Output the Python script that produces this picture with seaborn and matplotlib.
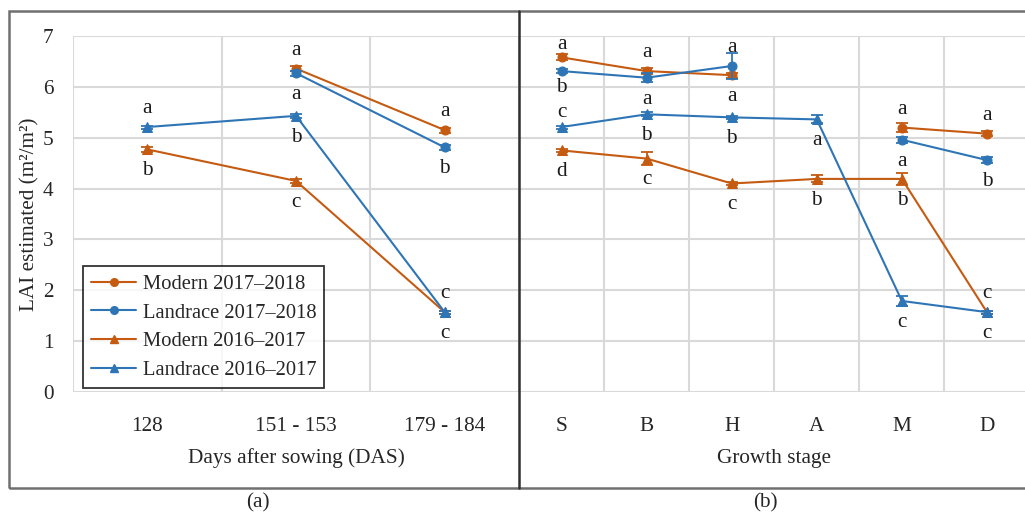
import numpy as np
import pandas as pd
import matplotlib
matplotlib.use("Agg")
import matplotlib.pyplot as plt
from matplotlib.lines import Line2D
from matplotlib.patches import Rectangle
import seaborn as sns

# ---------------- data ----------------
das_labels = ["128", "151 - 153", "179 - 184"]
stage_labels = ["S", "B", "H", "A", "M", "D"]
series_names = ["Modern 2017\u20132018", "Landrace 2017\u20132018",
                "Modern 2016\u20132017", "Landrace 2016\u20132017"]

# panel (a): LAI by days after sowing
a_mod_1718 = [np.nan, 6.36, 5.15]
a_lan_1718 = [np.nan, 6.27, 4.81]
a_mod_1617 = [4.77, 4.15, 1.57]
a_lan_1617 = [5.21, 5.43, 1.57]
a_err_mod_1718 = [np.nan, 0.05, 0.05]
a_err_lan_1718 = [np.nan, 0.05, 0.05]
a_err_mod_1617 = [0.05, 0.04, 0.03]
a_err_lan_1617 = [0.03, 0.04, 0.03]

# panel (b): LAI by growth stage
b_mod_1718 = [6.58, 6.31, 6.23, np.nan, 5.20, 5.08]
b_lan_1718 = [6.31, 6.18, 6.41, np.nan, 4.96, 4.56]
b_mod_1617 = [4.75, 4.59, 4.10, 4.19, 4.19, 1.57]
b_lan_1617 = [5.21, 5.46, 5.40, 5.36, 1.79, 1.57]
b_err_mod_1718 = [0.06, 0.06, 0.05, np.nan, 0.09, 0.05]
b_err_lan_1718 = [0.04, 0.09, 0.25, np.nan, 0.06, 0.06]
b_err_mod_1617 = [0.03, 0.12, 0.03, 0.07, 0.12, 0.03]
b_err_lan_1617 = [0.03, 0.04, 0.03, 0.08, 0.10, 0.03]

# significance letters: (series index, category index, letter, above?)
a_letters = [
    (3, 0, "a", True), (2, 0, "b", False),
    (0, 1, "a", True), (1, 1, "a", False), (3, 1, "b", False), (2, 1, "c", False),
    (0, 2, "a", True), (1, 2, "b", False), (3, 2, "c", True), (2, 2, "c", False),
]
b_letters = [
    (0, 0, "a", True), (1, 0, "b", False), (3, 0, "c", True), (2, 0, "d", False),
    (0, 1, "a", True), (1, 1, "a", False), (3, 1, "b", False), (2, 1, "c", False),
    (1, 2, "a", True), (0, 2, "a", False), (3, 2, "b", False), (2, 2, "c", False),
    (3, 3, "a", False), (2, 3, "b", False),
    (0, 4, "a", True), (1, 4, "a", False), (2, 4, "b", False), (3, 4, "c", False),
    (0, 5, "a", True), (1, 5, "b", False), (3, 5, "c", True), (2, 5, "c", False),
]

# ---------------- style ----------------
sns.set_style("white")
plt.rcParams["font.family"] = ["Liberation Serif", "DejaVu Serif"]
FS = 15.3

ORANGE = "#C55A11"
BLUE = "#2E75B6"
colors = [ORANGE, BLUE, ORANGE, BLUE]
markers = ["o", "o", "^", "^"]
msizes = [6.5, 6.5, 7, 7]
GRID = "#D9D9D9"

W, H = 1025, 516
fig = plt.figure(figsize=(W / 100, H / 100), dpi=100)

def fx(px):
    return px / W

def fy(py):
    return 1 - py / H

ax_top, ax_bot = 36, 392
axa = fig.add_axes([fx(73), fy(ax_bot), fx(519 - 73), fy(ax_top) - fy(ax_bot)])
axb = fig.add_axes([fx(519), fy(ax_bot), fx(1029.5 - 519), fy(ax_top) - fy(ax_bot)])


def letter_offset(panel, si, ci, above):
    # tighter spacing where two letters crowd together at stage S
    if panel == "b" and ci == 0:
        if si == 0:
            return 0.26
        if si == 1:
            return -0.33
        if si == 3:
            return 0.29
    return 0.36 if above else -0.42


def draw_panel(ax, panel, labels, vals, errs, letters):
    n = len(labels)
    x = np.arange(n)
    for i, (v, e) in enumerate(zip(vals, errs)):
        v = np.asarray(v, float)
        e = np.asarray(e, float)
        ok = ~np.isnan(v)
        idx = np.where(ok)[0]
        segs = np.split(idx, np.where(np.diff(idx) != 1)[0] + 1)
        for s in segs:
            if len(s) == 0:
                continue
            df = pd.DataFrame({"x": x[s], "y": v[s]})
            sns.lineplot(data=df, x="x", y="y", ax=ax, color=colors[i],
                         marker=markers[i], markersize=msizes[i],
                         markeredgecolor=colors[i], linewidth=1.5,
                         legend=False, zorder=3 + i)
        ax.errorbar(x[ok], v[ok], yerr=e[ok], fmt="none", ecolor=colors[i],
                    elinewidth=1.3, capsize=4, capthick=1.3, zorder=3 + i)
    for si, ci, txt, above in letters:
        yv = vals[si][ci]
        ty = yv + letter_offset(panel, si, ci, above)
        ax.text(ci, ty, txt, ha="center", va="center", fontsize=FS, color="#1a1a1a")
    ax.set_xlim(-0.5, n - 0.5)
    ax.set_ylim(0, 7)
    ax.set_xticks(x)
    ax.set_xticklabels(labels, fontsize=FS)
    ax.set_xticks(np.arange(n + 1) - 0.5, minor=True)
    ax.set_yticks(range(0, 8))
    ax.grid(False)
    ax.grid(True, which="minor", axis="x", color=GRID, linewidth=1.5)
    ax.grid(True, which="major", axis="y", color=GRID, linewidth=1.5)
    ax.tick_params(which="both", length=0)
    ax.tick_params(axis="x", pad=18)
    ax.set_xlabel("")
    ax.set_ylabel("")
    for sp in ax.spines.values():
        sp.set_visible(False)
    ax.set_axisbelow(True)


draw_panel(axa, "a", das_labels,
           [a_mod_1718, a_lan_1718, a_mod_1617, a_lan_1617],
           [a_err_mod_1718, a_err_lan_1718, a_err_mod_1617, a_err_lan_1617],
           a_letters)
draw_panel(axb, "b", stage_labels,
           [b_mod_1718, b_lan_1718, b_mod_1617, b_lan_1617],
           [b_err_mod_1718, b_err_lan_1718, b_err_mod_1617, b_err_lan_1617],
           b_letters)

axa.set_yticklabels([str(v) for v in range(0, 8)], fontsize=FS)
axa.tick_params(axis="y", pad=14)
axb.set_yticklabels([])

axa.set_xlabel("Days after sowing (DAS)", fontsize=FS, labelpad=9)
axb.set_xlabel("Growth stage", fontsize=FS, labelpad=9)
fig.text(fx(30), fy(214), "LAI estimated (m\u00b2/m\u00b2)", rotation=90,
         ha="center", va="center", fontsize=FS)

# legend
handles = [Line2D([0], [0], color=colors[i], marker=markers[i], markersize=msizes[i] - 1,
                  linewidth=1.5) for i in range(4)]
leg = axa.legend(handles, series_names, loc="lower left",
                 bbox_to_anchor=(fx(83), fy(388)), bbox_transform=fig.transFigure,
                 borderaxespad=0, fontsize=14.8, frameon=True, fancybox=False,
                 edgecolor="black", handlelength=2.2, handletextpad=0.3,
                 labelspacing=0.45, borderpad=0.4)
leg.get_frame().set_linewidth(1.3)
leg.set_zorder(10)

# outer frame, divider and captions
fig.add_artist(Rectangle((fx(9), fy(488)), fx(1040 - 9), fy(11) - fy(488),
                         transform=fig.transFigure, fill=False,
                         edgecolor="#707070", linewidth=1.8))
fig.add_artist(Line2D([fx(519), fx(519)], [fy(488), fy(11)],
                      transform=fig.transFigure, color="#303030", linewidth=1.8))
fig.text(fx(258), fy(503), "(a)", ha="center", va="center", fontsize=FS)
fig.text(fx(765), fy(503), "(b)", ha="center", va="center", fontsize=FS)

fig.savefig("out.png", dpi=100)
